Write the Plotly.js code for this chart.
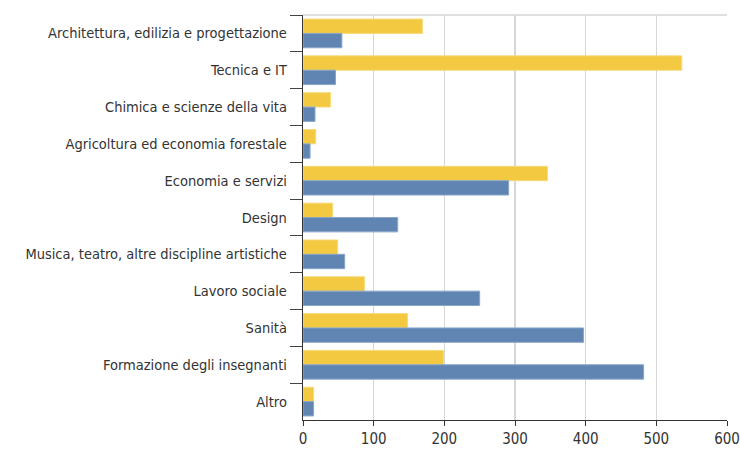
<!DOCTYPE html>
<html>
<head>
<meta charset="utf-8">
<script src="https://cdn.plot.ly/plotly-3.0.1.min.js"></script>
<style>html,body{margin:0;padding:0;background:#fff;}#chart{width:740px;height:449px;}</style>
</head>
<body>
<div id="chart"></div>
<script>
const categories = [
  "Architettura, edilizia e progettazione",
  "Tecnica e IT",
  "Chimica e scienze della vita",
  "Agricoltura ed economia forestale",
  "Economia e servizi",
  "Design",
  "Musica, teatro, altre discipline artistiche",
  "Lavoro sociale",
  "Sanità",
  "Formazione degli insegnanti",
  "Altro"
];
const yellowValues = [169, 536, 39, 18, 346, 42, 49, 87, 148, 199, 15];
const blueValues = [55, 46, 17, 10, 291, 134, 59, 250, 397, 482, 15];
const xTicks = [0, 100, 200, 300, 400, 500, 600];

const fontFam = '"Liberation Sans Narrow", "DejaVu Sans Condensed", "Roboto", sans-serif';

const traces = [
  {type: 'bar', orientation: 'h', y: categories, x: yellowValues,
   marker: {color: '#F2C940', line: {color: '#F7DA7A', width: 1}}, hoverinfo: 'x'},
  {type: 'bar', orientation: 'h', y: categories, x: blueValues,
   marker: {color: '#6085B2', line: {color: '#8AA6C9', width: 1}}, hoverinfo: 'x'}
];

const layout = {
  width: 740, height: 449,
  margin: {l: 303, r: 13, t: 15, b: 29},
  paper_bgcolor: '#fff', plot_bgcolor: '#fff',
  showlegend: false,
  barmode: 'group',
  bargap: 0.22, bargroupgap: 0,
  font: {family: fontFam, size: 14.5, color: '#333'},
  xaxis: {
    range: [0, 600], tickvals: xTicks, ticktext: xTicks.map(String),
    showgrid: true, gridcolor: '#d6d6d6', gridwidth: 1.6,
    showline: true, linecolor: '#333', linewidth: 1.2,
    ticks: 'outside', ticklen: 5, tickcolor: '#333',
    tickfont: {family: fontFam, size: 15, color: '#333'},
    zeroline: false, fixedrange: true
  },
  yaxis: {
    type: 'category', autorange: 'reversed',
    tickson: 'boundaries', ticks: 'outside', ticklen: 12, tickcolor: '#444',
    showline: true, linecolor: '#333', linewidth: 1.2,
    showgrid: false, ticklabelstandoff: 12,
    tickfont: {family: fontFam, size: 14.5, color: '#333'},
    fixedrange: true
  },
  shapes: [
    {type: 'line', xref: 'paper', yref: 'paper', x0: 0, x1: 1, y0: 1, y1: 1,
     line: {color: '#d6d6d6', width: 1.6}}
  ]
};

Plotly.newPlot('chart', traces, layout, {displayModeBar: false, staticPlot: true});
</script>
</body>
</html>
